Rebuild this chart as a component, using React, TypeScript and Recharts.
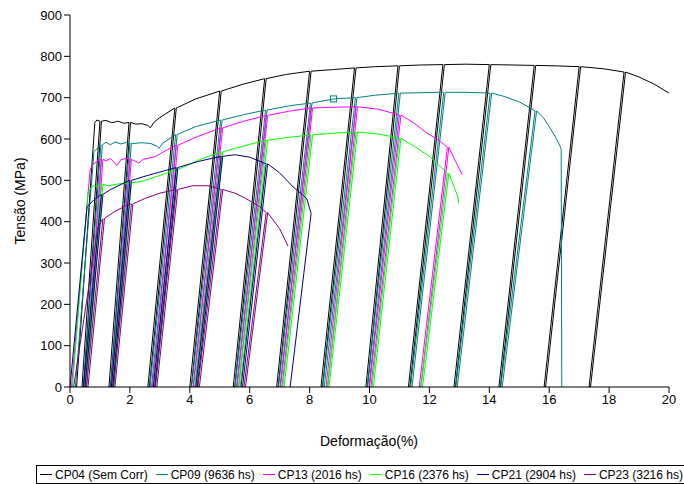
import React from 'react';
import { ComposedChart, Line, XAxis, YAxis, Legend } from 'recharts';

type P = [number, number];
type C = [number, number, number]; // [unload strain, unload stress, strain at zero stress]

const xTicks = [0, 2, 4, 6, 8, 10, 12, 14, 16, 18, 20];
const yTicks = [0, 100, 200, 300, 400, 500, 600, 700, 800, 900];

const seriesNames = ['CP04 (Sem Corr)', 'CP09 (9636 hs)', 'CP13 (2016 hs)', 'CP16 (2376 hs)', 'CP21 (2904 hs)', 'CP23 (3216 hs)'];
const seriesColors = ['#000000', '#008080', '#FF00FF', '#00FF00', '#000080', '#800080'];

// CP04
const cp04Start: P = [0.22, 0];
const cp04Envelope: P[] = [
  [0.83, 640], [0.9, 646], [1.05, 641], [1.2, 645], [1.4, 639], [1.6, 643], [1.8, 638], [2.0, 640],
  [2.2, 636], [2.4, 637], [2.6, 633], [2.68, 627], [2.8, 640], [3.0, 652], [3.5, 675], [4.2, 697],
  [5.0, 716], [5.8, 733], [6.5, 746], [7.2, 756], [8.0, 764], [8.8, 768], [9.5, 772], [10.2, 775],
  [10.95, 777], [11.7, 779], [12.45, 780], [13.2, 781], [14.0, 780], [14.8, 779], [15.5, 778],
  [16.2, 777], [17.0, 775], [17.8, 770], [18.5, 762], [19.0, 750], [19.5, 733], [20.0, 711],
];
const cp04Cycles: C[] = [
  [1.0, 643, 0.4], [1.97, 640, 1.3], [3.5, 675, 2.6], [5.0, 716, 4.0], [6.5, 746, 5.45], [8.0, 764, 6.9],
  [9.5, 772, 8.38], [10.95, 777, 9.88], [12.45, 780, 11.3], [14.0, 780, 12.82], [15.5, 778, 14.32],
  [17.0, 775, 15.83], [18.5, 762, 17.33],
];
const cp04End: P[] = [];

// CP09
const cp09Start: P = [0.18, 0];
const cp09Envelope: P[] = [
  [0.8, 569], [0.95, 580], [1.07, 586], [1.2, 592], [1.35, 586], [1.5, 593], [1.7, 588], [1.9, 592],
  [2.1, 589], [2.4, 591], [2.7, 589], [2.9, 583], [2.97, 577], [3.1, 590], [3.53, 611], [4.2, 630],
  [5.03, 646], [5.8, 659], [6.53, 670], [7.3, 680], [8.03, 687], [8.8, 697], [9.53, 700], [10.2, 706],
  [10.98, 711], [11.7, 712], [12.48, 713], [13.2, 713], [14.03, 711], [14.5, 703], [15.0, 690],
  [15.53, 668], [15.8, 652], [16.0, 630], [16.2, 606], [16.35, 585], [16.4, 575],
];
const cp09Cycles: C[] = [
  [1.03, 586, 0.46], [2.0, 590, 1.36], [3.53, 611, 2.67], [5.03, 646, 4.06], [6.53, 670, 5.51],
  [8.03, 687, 6.96], [9.53, 700, 8.44], [10.98, 711, 9.93], [12.48, 713, 11.37], [14.03, 711, 12.88],
  [15.53, 668, 14.38],
];
const cp09End: P[] = [[16.42, 0]];
const cp09Marker = [{ x: 8.8, y: 697 }];

// CP13
const cp13Start: P = [0.05, 0];
const cp13Envelope: P[] = [
  [0.67, 525], [0.75, 538], [0.9, 546], [1.05, 551], [1.2, 547], [1.35, 553], [1.5, 541], [1.57, 536],
  [1.7, 550], [1.9, 553], [2.1, 549], [2.3, 542], [2.45, 551], [2.84, 557], [3.1, 568], [3.55, 585],
  [4.3, 607], [5.05, 627], [5.8, 643], [6.55, 657], [7.3, 667], [8.05, 675], [8.8, 677], [9.55, 678],
  [10.3, 672], [11.0, 658], [11.5, 638], [11.92, 614], [12.3, 598], [12.6, 580], [12.95, 535], [13.1, 513],
];
const cp13Cycles: C[] = [
  [1.05, 551, 0.5], [2.0, 551, 1.4], [3.55, 585, 2.75], [5.05, 627, 4.12], [6.55, 657, 5.58],
  [8.05, 675, 7.03], [9.55, 678, 8.55], [11.0, 658, 10.0], [12.6, 580, 11.66],
];
const cp13End: P[] = [];

// CP16
const cp16Start: P = [0.08, 0];
const cp16Envelope: P[] = [
  [0.6, 470], [0.67, 478], [0.75, 487], [0.9, 485], [1.05, 490], [1.3, 487], [1.6, 491], [1.9, 493],
  [2.3, 496], [2.6, 502], [3.0, 512], [3.55, 526], [4.3, 549], [5.05, 569], [5.8, 583], [6.55, 597],
  [7.3, 604], [8.05, 610], [8.8, 614], [9.55, 617], [10.3, 612], [11.0, 602], [11.5, 582], [12.02, 557],
  [12.6, 517], [12.85, 480], [12.95, 460], [12.97, 445],
];
const cp16Cycles: C[] = [
  [1.05, 490, 0.5], [2.0, 494, 1.42], [3.55, 526, 2.8], [5.05, 569, 4.17], [6.55, 597, 5.63],
  [8.05, 610, 7.1], [9.55, 617, 8.6], [11.0, 602, 10.08], [12.6, 517, 11.72],
];
const cp16End: P[] = [];

// CP21
const cp21Start: P = [0.0, 0];
const cp21Envelope: P[] = [
  [0.57, 436], [0.8, 453], [1.0, 464], [1.34, 477], [1.7, 490], [2.0, 500], [2.6, 512], [3.0, 520],
  [3.55, 531], [4.3, 546], [5.05, 558], [5.5, 562], [6.0, 556], [6.55, 540], [7.0, 518], [7.45, 484],
  [7.75, 466], [7.91, 455], [8.05, 420],
];
const cp21Cycles: C[] = [
  [1.05, 466, 0.45], [2.0, 500, 1.38], [3.55, 531, 2.78], [5.05, 558, 4.2], [6.55, 540, 5.71],
];
const cp21End: P[] = [[7.35, 0]];

// CP23
const cp23Start: P = [0.12, 0];
const cp23Envelope: P[] = [
  [0.93, 387], [1.17, 409], [1.5, 425], [1.9, 440], [2.5, 456], [3.0, 469], [3.55, 478], [4.1, 487],
  [4.6, 487], [5.05, 478], [5.5, 469], [5.8, 459], [6.34, 436], [6.55, 422], [7.0, 383], [7.28, 341],
];
const cp23Cycles: C[] = [
  [1.1, 407, 0.55], [2.05, 443, 1.45], [3.55, 478, 2.85], [5.05, 478, 4.27], [6.55, 422, 5.81],
];
const cp23End: P[] = [];

const LOOP_GAP = 0.05;

function buildPath(start: P, envelope: P[], cycles: C[], end: P[]) {
  const pts: { x: number; y: number }[] = [{ x: start[0], y: start[1] }];
  let ci = 0;
  let skipUntil = -Infinity;
  for (const [x, y] of envelope) {
    while (ci < cycles.length && cycles[ci][0] <= x) {
      const [u, s, z] = cycles[ci];
      pts.push({ x: u, y: s }, { x: z, y: 0 }, { x: z + LOOP_GAP, y: 0 }, { x: u + LOOP_GAP, y: s });
      skipUntil = u + LOOP_GAP;
      ci++;
    }
    if (x <= skipUntil) continue;
    pts.push({ x, y });
  }
  for (const [x, y] of end) pts.push({ x, y });
  return pts;
}

const paths = [
  buildPath(cp04Start, cp04Envelope, cp04Cycles, cp04End),
  buildPath(cp09Start, cp09Envelope, cp09Cycles, cp09End),
  buildPath(cp13Start, cp13Envelope, cp13Cycles, cp13End),
  buildPath(cp16Start, cp16Envelope, cp16Cycles, cp16End),
  buildPath(cp21Start, cp21Envelope, cp21Cycles, cp21End),
  buildPath(cp23Start, cp23Envelope, cp23Cycles, cp23End),
];

const FONT = '"Liberation Sans", Arial, Helvetica, sans-serif';

const renderLegend = () => (
  <div
    style={{
      border: '1px solid #000',
      height: 19,
      boxSizing: 'border-box',
      display: 'flex',
      alignItems: 'center',
      fontFamily: FONT,
      fontSize: 12,
      whiteSpace: 'nowrap',
      paddingLeft: 3,
      background: '#fff',
      color: '#000',
      overflow: 'hidden',
    }}
  >
    {seriesNames.map((n, i) => (
      <div key={n} style={{ display: 'flex', alignItems: 'center', marginRight: 8 }}>
        <svg width={12} height={3} style={{ display: 'block' }}>
          <line x1={0} y1={1.5} x2={12} y2={1.5} stroke={seriesColors[i]} strokeWidth={1} />
        </svg>
        <span style={{ marginLeft: 3 }}>{n}</span>
      </div>
    ))}
  </div>
);

const squareDot = (props: any) => {
  const { cx, cy, key } = props;
  if (cx == null || cy == null) return <g key={key} />;
  return <rect key={key} x={cx - 3} y={cy - 3} width={6} height={6} fill="none" stroke="#008080" strokeWidth={1} />;
};

export default function App() {
  return (
    <div style={{ position: 'absolute', left: 0, top: 0, width: 684, height: 484, background: '#fff', overflow: 'hidden' }}>
      <ComposedChart width={684} height={484} margin={{ top: 15, right: 15, left: 30, bottom: 48 }}>
        <XAxis
          type="number"
          dataKey="x"
          domain={[0, 20]}
          ticks={xTicks}
          allowDataOverflow
          height={30}
          tickSize={6}
          tick={{ fontSize: 13, fill: '#000', fontFamily: FONT }}
          tickLine={{ stroke: '#000' }}
          axisLine={{ stroke: '#000' }}
          label={{
            content: () => (
              <text x={369} y={446} textAnchor="middle" fontSize={14} fontFamily={FONT} fill="#000">
                Deformação(%)
              </text>
            ),
          }}
        />
        <XAxis
          xAxisId="top"
          orientation="top"
          type="number"
          domain={[0, 20]}
          height={0}
          tick={false}
          tickLine={false}
          axisLine={{ stroke: '#000' }}
        />
        <YAxis
          type="number"
          domain={[0, 900]}
          ticks={yTicks}
          allowDataOverflow
          width={40}
          tickSize={6}
          tick={{ fontSize: 13, fill: '#000', fontFamily: FONT }}
          tickLine={{ stroke: '#000' }}
          axisLine={{ stroke: '#000' }}
          label={{
            content: () => (
              <text
                x={25}
                y={201}
                transform="rotate(-90 25 201)"
                textAnchor="middle"
                fontSize={14}
                fontFamily={FONT}
                fill="#000"
              >
                Tensão (MPa)
              </text>
            ),
          }}
        />
        <YAxis
          yAxisId="right"
          orientation="right"
          type="number"
          domain={[0, 900]}
          width={0}
          tick={false}
          tickLine={false}
          axisLine={{ stroke: '#000' }}
        />
        <Legend
          content={renderLegend}
          verticalAlign="bottom"
          wrapperStyle={{ left: 36, top: 465, width: 670, height: 19 }}
        />
        {paths.map((d, i) => (
          <Line
            key={seriesNames[i]}
            data={d}
            dataKey="y"
            name={seriesNames[i]}
            type="linear"
            stroke={seriesColors[i]}
            strokeWidth={1}
            dot={false}
            activeDot={false}
            isAnimationActive={false}
          />
        ))}
        <Line
          data={cp09Marker}
          dataKey="y"
          name="marker"
          stroke="none"
          dot={squareDot}
          activeDot={false}
          legendType="none"
          isAnimationActive={false}
        />
      </ComposedChart>
    </div>
  );
}
